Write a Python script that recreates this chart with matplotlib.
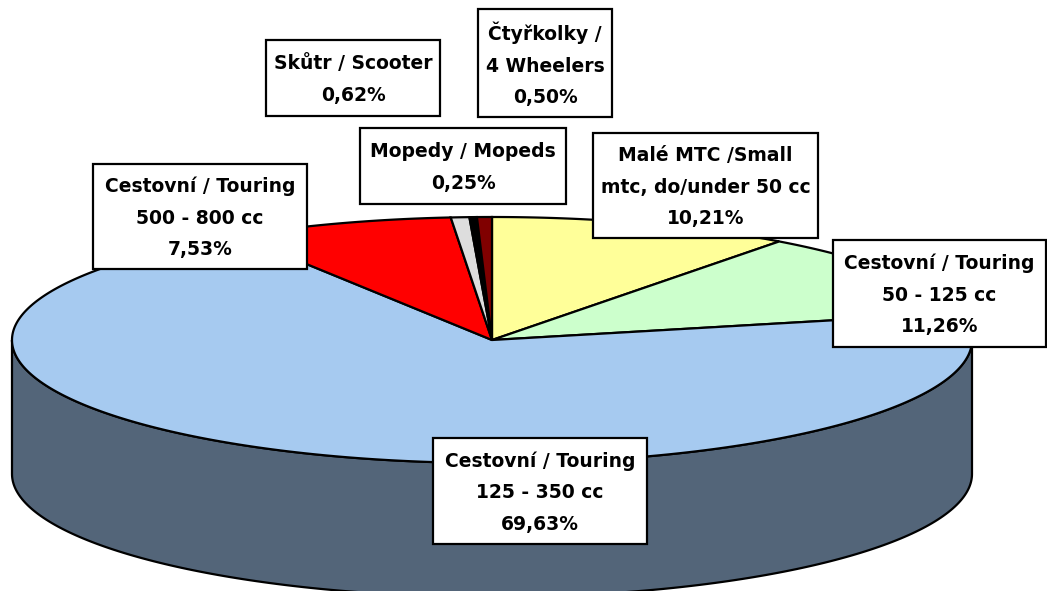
import numpy as np
import matplotlib
matplotlib.use("Agg")
import matplotlib.pyplot as plt
from matplotlib.patches import Polygon, Rectangle

plt.rcParams['font.family'] = ['DejaVu Sans']

### data (clockwise from 12 o'clock, like Excel)
names = ["Malé MTC /Small\nmtc, do/under 50 cc",
         "Cestovní / Touring\n50 - 125 cc",
         "Cestovní / Touring\n125 - 350 cc",
         "Cestovní / Touring\n500 - 800 cc",
         "Skůtr / Scooter",
         "Mopedy / Mopeds",
         "Čtyřkolky /\n4 Wheelers"]
shares = [10.21, 11.26, 69.63, 7.53, 0.62, 0.25, 0.50]
colors = ["#FFFF99", "#CCFFCC", "#A6CAF0", "#FF0000", "#DDDDDD", "#000000", "#800000"]
side_color = "#536579"

# label boxes (x0, y0, x1, y1) in pixels
boxes = [(593, 133, 818, 238),
         (833, 240, 1046, 347),
         (433, 438, 647, 544),
         (93, 164, 307, 269),
         (266, 40, 440, 116),
         (360, 128, 566, 204),
         (478, 9, 612, 117)]

# pie geometry
cx, cy = 492, 340
rx, ry = 480, 123
depth = 134


def ell(theta, dy=0):
    # theta in degrees, clockwise from top
    t = np.radians(theta)
    return cx + rx * np.sin(t), cy - ry * np.cos(t) + dy


fig = plt.figure(figsize=(10.47, 5.91), dpi=100)
ax = fig.add_axes([0, 0, 1, 1])
ax.set_xlim(0, 1047)
ax.set_ylim(591, 0)
ax.axis("off")

# side wall (front half)
th = np.linspace(90, 270, 200)
xt, yt = ell(th)
xb, yb = ell(th[::-1], depth)
side = np.column_stack([np.concatenate([xt, xb]), np.concatenate([yt, yb])])
ax.add_patch(Polygon(side, closed=True, fc=side_color, ec="black", lw=1.6, zorder=1))

# top slices
start = 0.0
for val, col in zip(shares, colors):
    span = val / sum(shares) * 360
    th = np.linspace(start, start + span, max(int(span * 2), 3))
    x, y = ell(th)
    pts = np.column_stack([np.concatenate([[cx], x]), np.concatenate([[cy], y])])
    ax.add_patch(Polygon(pts, closed=True, fc=col, ec="black", lw=1.6, zorder=2))
    start += span

# labels
for name, val, b in zip(names, shares, boxes):
    x0, y0, x1, y1 = b
    ax.add_patch(Rectangle((x0, y0), x1 - x0, y1 - y0, fc="white", ec="black", lw=1.6, zorder=3))
    txt = name + "\n" + ("%.2f%%" % val).replace(".", ",")
    ax.text((x0 + x1) / 2, (y0 + y1) / 2 + 1.5, txt, ha="center", va="center",
            fontsize=13.5, fontweight="bold", linespacing=1.82, zorder=4)

fig.savefig("out.png", dpi=100)
